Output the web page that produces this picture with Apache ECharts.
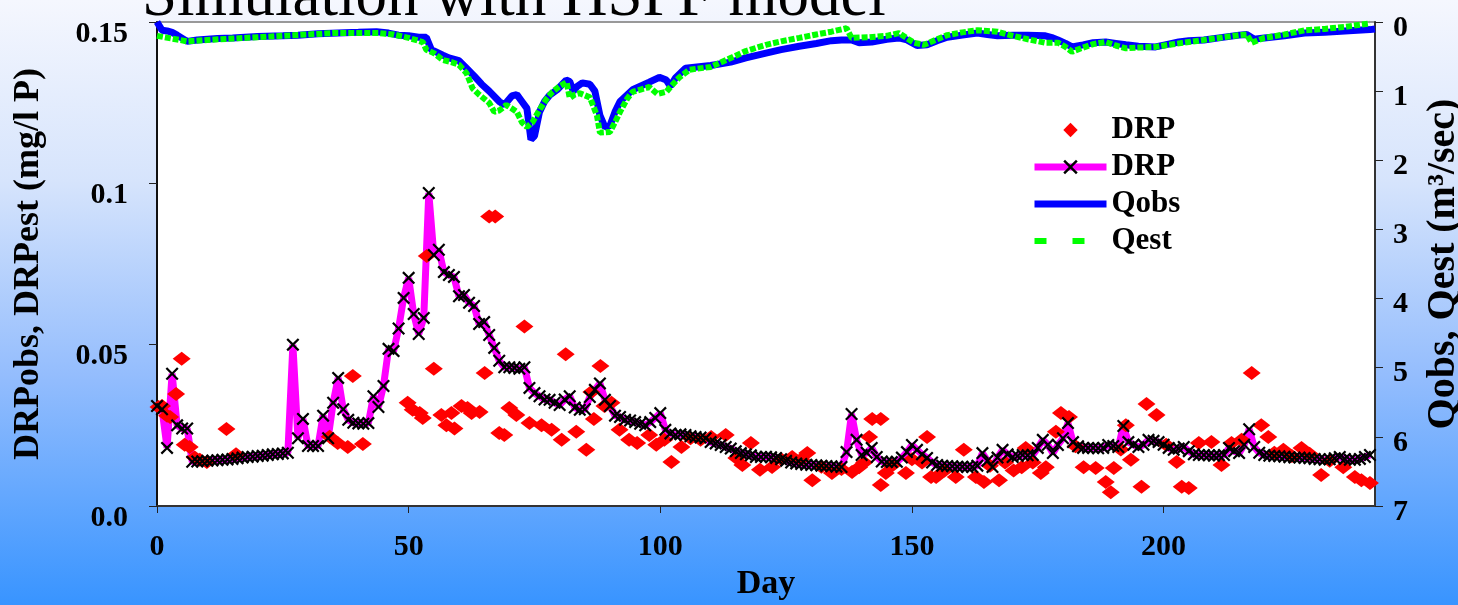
<!DOCTYPE html>
<html lang="en">
<head>
    <meta charset="UTF-8">
    <title>Simulation with HSPF model</title>
    <script src="https://cdn.jsdelivr.net/npm/echarts@6/dist/echarts.min.js"></script>
    <style>
        body{
            margin: 0;
            background: linear-gradient(to bottom, #f5f7fe 0%, #d6e4fc 30%, #94bdfd 62%, #3894ff 100%);
        }
        #chart{
            width: 1458px;
            height: 605px;
        }
    </style>
</head>
<body>
    <div id="chart"></div>
    <script>
        // DRP estimated (mg/l P), one value per day starting at day 0
        var drpEst = [
            0.031, 0.030, 0.018, 0.041, 0.025, 0.024, 0.024, 0.0137, 0.0138, 0.0139,
            0.0140, 0.0141, 0.0142, 0.0143, 0.0144, 0.0146, 0.0148, 0.0150, 0.0152, 0.0153,
            0.0155, 0.0156, 0.0158, 0.0160, 0.0161, 0.0163, 0.0165, 0.050, 0.021, 0.027,
            0.0186, 0.0186, 0.0186, 0.028, 0.021, 0.032, 0.0397, 0.030, 0.0267, 0.0258,
            0.0256, 0.0255, 0.0257, 0.034, 0.0307, 0.0372, 0.0487, 0.048, 0.055, 0.0645,
            0.0707, 0.0595, 0.0533, 0.0583, 0.097, 0.0778, 0.0794, 0.0725, 0.0716, 0.071,
            0.065, 0.0654, 0.063, 0.062, 0.0564, 0.057, 0.053, 0.049, 0.045, 0.043,
            0.043, 0.0428, 0.0425, 0.043, 0.0366, 0.035, 0.034, 0.033, 0.0329, 0.032,
            0.0313, 0.033, 0.034, 0.0305, 0.0298, 0.030, 0.0338, 0.036, 0.038, 0.0329,
            0.031, 0.028, 0.0276, 0.0267, 0.0265, 0.026, 0.0255, 0.025, 0.026, 0.0273,
            0.0288, 0.0236, 0.0225, 0.022, 0.0222, 0.022, 0.0216, 0.0214, 0.0212, 0.021,
            0.0198, 0.0194, 0.0189, 0.0183, 0.0178, 0.017, 0.0164, 0.016, 0.0157, 0.0152,
            0.0152, 0.0153, 0.0151, 0.0149, 0.0145, 0.014, 0.0135, 0.0132, 0.013, 0.0128,
            0.0127, 0.0126, 0.0125, 0.0124, 0.0123, 0.0122, 0.0121, 0.0167, 0.0285, 0.0205,
            0.0158, 0.0165, 0.018, 0.0152, 0.0138, 0.0136, 0.0136, 0.0137, 0.015, 0.0167,
            0.0189, 0.0174, 0.016, 0.0149, 0.0135, 0.0127, 0.0125, 0.0124, 0.0123, 0.0122,
            0.0122, 0.0121, 0.0121, 0.0125, 0.0164, 0.014, 0.0121, 0.015, 0.0174, 0.016,
            0.0152, 0.0155, 0.0158, 0.0157, 0.0158, 0.018, 0.0205, 0.019, 0.0164, 0.0189,
            0.021, 0.0257, 0.0198, 0.0185, 0.018, 0.018, 0.018, 0.0179, 0.018, 0.0189,
            0.0186, 0.0183, 0.0248, 0.0198, 0.019, 0.0183, 0.019, 0.0205, 0.0202, 0.0198,
            0.019, 0.018, 0.0174, 0.0178, 0.0183, 0.017, 0.016, 0.0158, 0.0158, 0.0157,
            0.0156, 0.0157, 0.0158, 0.018, 0.017, 0.0164, 0.019, 0.0238, 0.0183, 0.0165,
            0.0158, 0.0156, 0.0155, 0.0154, 0.0153, 0.0151, 0.015, 0.015, 0.0149, 0.0148,
            0.0146, 0.0145, 0.0143, 0.0145, 0.0148, 0.0152, 0.0146, 0.0143, 0.0143, 0.0146,
            0.0152, 0.0158
        ];

        // DRP observed samples [day, mg/l P]
        var drpObs = [
            [0.3, 0.0307], [1, 0.031], [2, 0.028], [2.6, 0.0276], [3.8, 0.0347], [4.9, 0.0456],
            [5.5, 0.019], [6.5, 0.0183], [7.5, 0.015], [8.5, 0.0143], [9.9, 0.0136], [13.8, 0.0239],
            [15.7, 0.016], [34.3, 0.0215], [35.9, 0.0195], [37.9, 0.0183], [38.9, 0.0403], [40.9, 0.0192],
            [49.8, 0.032], [50.8, 0.0298], [52.2, 0.0288], [52.8, 0.0273], [53.6, 0.0775], [55, 0.0425],
            [56.5, 0.0282], [57.5, 0.025], [58.5, 0.0288], [59.1, 0.024], [60.5, 0.031], [61.7, 0.0304],
            [62.5, 0.0288], [64.1, 0.0291], [65.1, 0.0412], [66, 0.0897], [67.2, 0.0897], [68, 0.0226],
            [69, 0.022], [70, 0.0304], [71.4, 0.0282], [73, 0.0556], [74, 0.0257], [76.4, 0.025],
            [78.4, 0.0236], [80.4, 0.0205], [81.2, 0.047], [83.3, 0.023], [85.3, 0.0174], [86.3, 0.0353],
            [86.8, 0.027], [88.1, 0.0434], [88.9, 0.031], [90.3, 0.032], [91.9, 0.0236], [93.8, 0.0205],
            [95.4, 0.0195], [97.8, 0.022], [99.2, 0.019], [100.8, 0.0205], [102.2, 0.0136], [104.2, 0.0183],
            [106, 0.021], [108, 0.0205], [110.1, 0.0214], [113, 0.022], [115.1, 0.0149], [116.3, 0.0127],
            [118, 0.0195], [119.8, 0.0112], [122.2, 0.0121], [124, 0.0145], [126.2, 0.0152], [128, 0.0145],
            [129.2, 0.0164], [130.2, 0.008], [132, 0.0122], [134.1, 0.0102], [136, 0.0115], [138.1, 0.0105],
            [139.5, 0.012], [140.5, 0.0135], [141.5, 0.0214], [142.1, 0.027], [143.8, 0.027], [143.8, 0.0065],
            [144.8, 0.0102], [146, 0.0125], [148.8, 0.0102], [150, 0.0145], [152, 0.0135], [153, 0.0214],
            [153.8, 0.009], [154.8, 0.009], [156.5, 0.011], [158.7, 0.009], [160.3, 0.0174], [162.7, 0.009],
            [164.3, 0.0074], [165.5, 0.0125], [167.3, 0.008], [168.5, 0.0135], [170.2, 0.011], [171.8, 0.012],
            [172.6, 0.018], [174, 0.0135], [175.6, 0.0102], [176.6, 0.012], [178.6, 0.023], [179.6, 0.0288],
            [181.2, 0.0276], [182.5, 0.0185], [184.1, 0.012], [186.5, 0.0118], [188.5, 0.0074], [189.5, 0.0043],
            [190.1, 0.0118], [191.5, 0.0175], [192.5, 0.025], [193.5, 0.0143], [195.6, 0.006], [196.6, 0.0316],
            [198.6, 0.0282], [200.5, 0.019], [202.6, 0.0136], [203.6, 0.006], [205, 0.0056], [207, 0.0195],
            [209.5, 0.0198], [211.5, 0.0127], [213.5, 0.0195], [215.5, 0.0205], [217.5, 0.0412], [219.4, 0.025],
            [220.8, 0.0214], [222, 0.0165], [223.8, 0.0174], [225.5, 0.0155], [227.4, 0.018], [229, 0.0162],
            [231.3, 0.0096], [233, 0.014], [235.7, 0.012], [238, 0.009], [239.3, 0.008], [241, 0.0071]
        ];

        // flow observed [day, m3/sec]
        var qObs = [
            [0, 0], [1, 0.12], [2, 0.13], [3, 0.15], [4, 0.19], [6, 0.28], [8, 0.26], [12, 0.24],
            [15, 0.23], [20, 0.21], [25, 0.2], [28, 0.19], [32, 0.17], [36, 0.16], [40, 0.15], [43.6, 0.14],
            [46, 0.16], [48, 0.19], [50, 0.2], [52, 0.22], [53.5, 0.22], [54.5, 0.4], [56.8, 0.48],
            [58, 0.52], [60, 0.56], [61.5, 0.67], [63, 0.78], [64.5, 0.9], [66, 1.0], [68, 1.15],
            [69, 1.2], [70.5, 1.07], [71.5, 1.05], [72.5, 1.15], [73.5, 1.25], [74.3, 1.7], [75, 1.65],
            [76, 1.3], [77, 1.15], [78, 1.06], [79.5, 0.98], [81.3, 0.84], [82, 0.86], [82.7, 1.0],
            [83.5, 0.93], [84.5, 0.88], [86, 0.9], [87, 1.0], [88, 1.35], [89, 1.52], [90, 1.5],
            [91, 1.3], [92, 1.15], [94.5, 0.98], [97.8, 0.87], [99.8, 0.8], [101.2, 0.84], [102, 0.93],
            [103, 0.81], [105, 0.67], [110, 0.63], [114, 0.58], [117, 0.52], [121, 0.45], [124, 0.4],
            [127.6, 0.35], [131, 0.31], [134, 0.27], [136, 0.26], [138, 0.26], [139.5, 0.3], [142, 0.29],
            [145, 0.25], [147.4, 0.23], [149, 0.26], [151, 0.34], [153, 0.33], [155, 0.27], [157, 0.22],
            [160, 0.19], [163, 0.16], [165, 0.18], [167, 0.2], [170, 0.19], [173, 0.19], [176.5, 0.2],
            [178, 0.23], [179, 0.26], [180.5, 0.31], [181.8, 0.36], [184, 0.33], [186, 0.3], [188.5, 0.29],
            [190.5, 0.31], [192.5, 0.33], [195, 0.35], [198.4, 0.36], [201, 0.32], [203, 0.29], [205, 0.27],
            [208, 0.26], [211, 0.23], [215, 0.19], [216.5, 0.18], [218, 0.25], [220, 0.23], [224, 0.2],
            [228, 0.16], [232, 0.15], [236, 0.13], [241, 0.11], [242, 0.1]
        ];

        // flow estimated [day, m3/sec]
        var qEst = [
            [0, 0.2], [3, 0.24], [6, 0.28], [10, 0.26], [15, 0.24], [20, 0.22], [25, 0.2], [30, 0.18],
            [35, 0.16], [40, 0.16], [44, 0.16], [47, 0.18], [50, 0.23], [52.8, 0.29], [53.5, 0.4],
            [55, 0.45], [56.8, 0.55], [58.5, 0.58], [60, 0.62], [61.5, 0.74], [62.7, 0.96], [64, 1.05],
            [66, 1.17], [67, 1.3], [68, 1.28], [69.4, 1.2], [70.5, 1.25], [71.5, 1.3], [72.5, 1.45],
            [73.5, 1.52], [74.6, 1.45], [76, 1.27], [77.5, 1.1], [78.6, 1.01], [80, 0.93], [81.4, 0.87],
            [82, 1.1], [83, 1.05], [84, 1.03], [86, 1.09], [87.4, 1.35], [88, 1.6], [90, 1.59], [91, 1.45],
            [92, 1.3], [93.5, 1.1], [94.5, 1.01], [97.8, 0.94], [99.4, 1.04], [101.2, 1.01], [102, 0.94],
            [103.8, 0.8], [105.8, 0.69], [110, 0.65], [114.3, 0.51], [117, 0.42], [121, 0.33], [124, 0.28],
            [127.6, 0.23], [131, 0.18], [134, 0.14], [137, 0.09], [138, 0.23], [141.5, 0.22], [145, 0.2],
            [147.4, 0.16], [150.4, 0.3], [152.4, 0.33], [155, 0.25], [157, 0.19], [160, 0.15], [163, 0.12],
            [165, 0.13], [167, 0.14], [170, 0.2], [173, 0.25], [176.5, 0.3], [179, 0.3], [180.5, 0.36],
            [181.8, 0.43], [184, 0.37], [186, 0.32], [188.5, 0.29], [190.5, 0.34], [192.5, 0.38], [195, 0.37],
            [198.4, 0.36], [201, 0.33], [205, 0.29], [210, 0.24], [215, 0.19], [216.5, 0.18], [217.5, 0.3],
            [220, 0.23], [224, 0.18], [228, 0.12], [232, 0.1], [236, 0.07], [241, 0.02]
        ];

        var drpTickLabels = ['0.0', '0.05', '0.1', '0.15'];
        var dayTickLabels = ['0', '50', '100', '150', '200'];

        var drpEstData = drpEst.map(function (v, i) { return [i, v]; });

        var font = '"Liberation Serif", "Times New Roman", serif';
        var crossPath = 'path://M0,1.2L1.2,0L5,3.8L8.8,0L10,1.2L6.2,5L10,8.8L8.8,10L5,6.2L1.2,10L0,8.8L3.8,5Z';

        var myChart = echarts.init(document.getElementById('chart'));
        var option = {
            animation: false,
            backgroundColor: 'transparent',
            graphic: [{
                type: 'text',
                left: 142,
                top: -33,
                style: {
                    text: 'Simulation with HSPF model',
                    font: '63px ' + font,
                    fill: '#000'
                }
            }],
            grid: {
                left: 157,
                right: 83,
                top: 22,
                bottom: 99,
                outerBoundsMode: 'none',
                show: true,
                backgroundColor: '#fff',
                borderColor: '#999',
                borderWidth: 2
            },
            legend: {
                orient: 'vertical',
                left: 1031,
                top: 114,
                padding: 0,
                itemWidth: 72,
                itemHeight: 18,
                itemGap: 5,
                formatter: function (name) {
                    return name.indexOf('DRP') === 0 ? 'DRP' : name;
                },
                textStyle: {
                    fontFamily: font,
                    fontWeight: 'bold',
                    fontSize: 31,
                    lineHeight: 32,
                    color: '#000'
                },
                data: [
                    { name: 'DRPobs' },
                    { name: 'DRPest', lineStyle: { width: 7 } },
                    { name: 'Qobs', lineStyle: { width: 7 }, itemStyle: { opacity: 0 } },
                    { name: 'Qest', lineStyle: { width: 6, type: [12, 26] }, itemStyle: { opacity: 0 } }
                ]
            },
            xAxis: {
                type: 'value',
                min: 0,
                max: 242,
                interval: 50,
                name: 'Day',
                nameLocation: 'middle',
                nameGap: 60,
                nameTextStyle: { fontFamily: font, fontWeight: 'bold', fontSize: 34, color: '#000' },
                splitLine: { show: false },
                axisLine: { lineStyle: { color: '#333', width: 2 } },
                axisTick: { length: 7, lineStyle: { color: '#222' } },
                axisLabel: {
                    margin: 26,
                    showMaxLabel: false,
                    fontFamily: font, fontWeight: 'bold', fontSize: 30, color: '#000',
                    formatter: function (v) {
                        return v % 50 === 0 ? dayTickLabels[v / 50] : '';
                    }
                }
            },
            yAxis: [{
                type: 'value',
                position: 'left',
                min: 0,
                max: 0.15,
                interval: 0.05,
                name: 'DRPobs, DRPest (mg/l P)',
                nameLocation: 'middle',
                nameGap: 110,
                nameTextStyle: { fontFamily: font, fontWeight: 'bold', fontSize: 36, color: '#000' },
                splitLine: { show: false },
                axisLine: { show: true, lineStyle: { color: '#111', width: 2 } },
                axisTick: { show: true, length: 8, lineStyle: { color: '#222' } },
                axisLabel: {
                    margin: 29,
                    verticalAlign: 'top',
                    lineHeight: 24,
                    fontFamily: font, fontWeight: 'bold', fontSize: 30, color: '#000',
                    formatter: function (v) {
                        return drpTickLabels[Math.round(v / 0.05)];
                    }
                }
            }, {
                type: 'value',
                position: 'right',
                inverse: true,
                min: 0,
                max: 7,
                interval: 1,
                name: 'Qobs, Qest (m\u00b3/sec)',
                nameLocation: 'middle',
                nameGap: 49,
                nameTextStyle: { fontFamily: font, fontWeight: 'bold', fontSize: 40, color: '#000' },
                splitLine: { show: false },
                axisLine: { show: true, lineStyle: { color: '#333', width: 2 } },
                axisTick: { show: true, length: 8, lineStyle: { color: '#222' } },
                axisLabel: {
                    margin: 18,
                    verticalAlign: 'top',
                    lineHeight: 12,
                    fontFamily: font, fontWeight: 'bold', fontSize: 30, color: '#000'
                }
            }],
            series: [{
                name: 'Qobs',
                type: 'line',
                yAxisIndex: 1,
                data: qObs,
                symbol: 'none',
                lineStyle: { color: '#0000ff', width: 7 },
                itemStyle: { color: '#0000ff' }
            }, {
                name: 'Qest',
                type: 'line',
                yAxisIndex: 1,
                data: qEst,
                symbol: 'none',
                lineStyle: { color: '#00ff00', width: 6, type: [6, 2] },
                itemStyle: { color: '#00ff00' }
            }, {
                name: 'DRPobs',
                type: 'line',
                yAxisIndex: 0,
                data: drpObs,
                symbol: 'diamond',
                symbolSize: [18, 14],
                lineStyle: { width: 0, opacity: 0 },
                itemStyle: { color: '#ff0000' }
            }, {
                name: 'DRPest',
                type: 'line',
                yAxisIndex: 0,
                data: drpEstData,
                symbol: crossPath,
                symbolSize: 13,
                lineStyle: { color: '#ff00ff', width: 7 },
                itemStyle: { color: '#000' }
            }]
        };

        myChart.setOption(option);
    </script>
</body>
</html>
